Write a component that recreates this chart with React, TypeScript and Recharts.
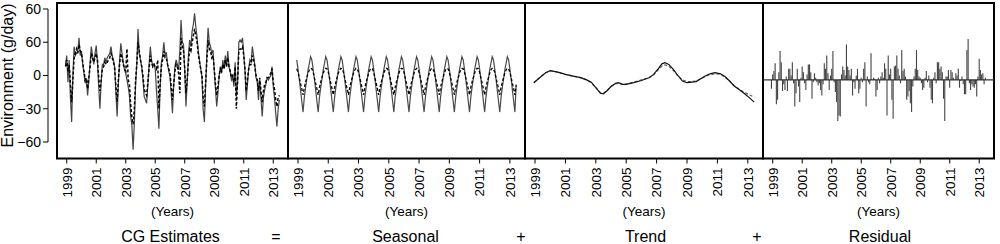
import React from 'react';
import { ComposedChart, Line, Bar, XAxis, YAxis, ReferenceArea, ReferenceLine } from 'recharts';

const FONT = '"Liberation Sans", Arial, Helvetica, sans-serif';

// ---------- labels ----------
const yearTicks = [1999, 2001, 2003, 2005, 2007, 2009, 2011, 2013];
const yTicks = [-60, -30, 0, 30, 60];
const yTickLabels = ['\u221260', '\u221230', '0', '60', '60'];
const panelTitles = ['CG Estimates', 'Seasonal', 'Trend', 'Residual'];
const operators = ['=', '+', '+'];
const xAxisTitle = '(Years)';
const yAxisTitle = 'Environment (g/day)';

// ---------- data (monthly, Dec 1998 .. Jun 2013) ----------
const SERIES_START = 1998 + 11 / 12;

const cgObserved = [
  10,
  18, -6, 14, -20, -42, 0, 26, 18, 20, 22, 34, 18,
  22, 10, 2, -7, -4, -18, -4, 12, 26, 18, 10, 20,
  27, 12, -10, -30, -6, 10, 10, 16, 12, 16, 18, 20,
  26, 18, 14, 8, -16, -37, -8, 14, 29, 20, 12, 5,
  2, -4, -10, -18, -37, -45, -67, -43, -10, 11, 42, 20,
  14, 8, -4, -19, -22, -25, -8, 10, 26, 14, 8, 10,
  6, -14, -30, -48, -10, 12, 18, 30, 18, 21, 10, 4,
  -1, -16, -34, -10, 8, 14, 10, 5, 22, 50, 30, 28,
  4, -28, -6, 18, 32, 26, 40, 46, 56, 44, 35, 22,
  14, 6, -1, -31, -42, -10, 20, 43, 30, 26, 20, 23,
  4, -12, -28, -16, 0, 8, 2, 14, 6, 18, 8, 22,
  8, 3, -4, -1, -10, 12, -19, -6, 30, 32, 30, 34,
  20, 4, -22, -8, 6, 14, 12, 26, 18, 10, -2, -6,
  -22, -4, -20, -37, -20, -13, -8, -2, -4, -2, 0, 8,
  -10, -20, -34, -46, -30, -22,
];

const cgEstimated = [
  8,
  14, 4, 10, -8, -24, -4, 16, 20, 24, 20, 28, 22,
  20, 12, 4, -4, -2, -12, -2, 8, 20, 16, 12, 16,
  20, 14, -2, -14, -4, 6, 8, 12, 10, 12, 14, 16,
  20, 16, 12, 6, -10, -24, -4, 10, 20, 16, 10, 6,
  4, 24, -4, -8, -26, -38, -44, -30, -4, 10, 30, 22,
  14, 8, 0, -12, -16, -18, -6, 6, 18, 12, 8, 10,
  8, 6, 14, -30, -8, 8, 14, 22, 16, 16, 10, 6,
  2, -10, -22, -8, 4, 10, 8, 2, -16, 34, 26, 22,
  6, -16, -4, 12, 24, 22, 30, 36, 42, 36, 30, 20,
  12, 6, 0, -20, -28, -6, 14, 32, 24, 22, 16, 18,
  6, -8, -18, -10, 0, 6, 4, 10, 6, 14, 8, 16,
  8, 4, -2, 0, -6, 8, -30, -4, 22, 24, 24, 26,
  18, 6, -14, -4, 6, 10, 10, 18, 14, 8, 0, -4,
  -14, -2, -14, -24, -14, -8, -6, -2, -2, 0, 2, 6,
  -6, -12, -22, -28, -20, -18,
];

const seasonalObserved = [
  14,
  6, -3, -13, -23, -33, -20, -11, -3, 5, 11, 17, 14,
  6, -3, -13, -23, -33, -20, -11, -3, 5, 11, 17, 14,
  6, -3, -13, -23, -33, -20, -11, -3, 5, 11, 17, 14,
  6, -3, -13, -23, -33, -20, -11, -3, 5, 11, 17, 14,
  6, -3, -13, -23, -33, -20, -11, -3, 5, 11, 17, 14,
  6, -3, -13, -23, -33, -20, -11, -3, 5, 11, 17, 14,
  6, -3, -13, -23, -33, -20, -11, -3, 5, 11, 17, 14,
  6, -3, -13, -23, -33, -20, -11, -3, 5, 11, 17, 14,
  6, -3, -13, -23, -33, -20, -11, -3, 5, 11, 17, 14,
  6, -3, -13, -23, -33, -20, -11, -3, 5, 11, 17, 14,
  6, -3, -13, -23, -33, -20, -11, -3, 5, 11, 17, 14,
  6, -3, -13, -23, -33, -20, -11, -3, 5, 11, 17, 14,
  6, -3, -13, -23, -33, -20, -11, -3, 5, 11, 17, 14,
  6, -3, -13, -23, -33, -20, -11, -3, 5, 11, 17, 14,
  6, -3, -13, -23, -33, -8,
];

const seasonalEstimated = [
  6,
  3, -2, -7, -12, -17.5, -11, -6, -2, 2, 5, 6.5, 6,
  3, -2, -7, -12, -17.5, -11, -6, -2, 2, 5, 6.5, 6,
  3, -2, -7, -12, -17.5, -11, -6, -2, 2, 5, 6.5, 6,
  3, -2, -7, -12, -17.5, -11, -6, -2, 2, 5, 6.5, 6,
  3, -2, -7, -12, -17.5, -11, -6, -2, 2, 5, 6.5, 6,
  3, -2, -7, -12, -17.5, -11, -6, -2, 2, 5, 6.5, 6,
  3, -2, -7, -12, -17.5, -11, -6, -2, 2, 5, 6.5, 6,
  3, -2, -7, -12, -17.5, -11, -6, -2, 2, 5, 6.5, 6,
  3, -2, -7, -12, -17.5, -11, -6, -2, 2, 5, 6.5, 6,
  3, -2, -7, -12, -17.5, -11, -6, -2, 2, 5, 6.5, 6,
  3, -2, -7, -12, -17.5, -11, -6, -2, 2, 5, 6.5, 6,
  3, -2, -7, -12, -17.5, -11, -6, -2, 2, 5, 6.5, 6,
  3, -2, -7, -12, -17.5, -11, -6, -2, 2, 5, 6.5, 6,
  3, -2, -7, -12, -17.5, -11, -6, -2, 2, 5, 6.5, 6,
  3, -2, -7, -12, -17.5, -9,
];

const trendTimes = [
  1998.92, 1999.3, 1999.7, 2000.0, 2000.5, 2001.0, 2001.5, 2002.0, 2002.4, 2002.7,
  2003.0, 2003.3, 2003.5, 2003.75, 2004.0, 2004.3, 2004.5, 2004.75, 2005.0, 2005.5,
  2006.0, 2006.5, 2006.8, 2007.1, 2007.35, 2007.55, 2007.8, 2008.1, 2008.4, 2008.7,
  2009.0, 2009.3, 2009.6, 2009.9, 2010.2, 2010.5, 2010.85, 2011.2, 2011.5, 2011.8,
  2012.1, 2012.4, 2012.75, 2013.1, 2013.42,
];
const trendObserved = [
  -6.5, -2, 2.5, 4.3, 3, 1, -0.5, -2, -4, -6,
  -11, -16, -16.5, -13.5, -10, -7, -6.5, -8, -8, -6.5,
  -4.5, -2, 1, 6, 10.5, 11.5, 10, 5.5, 0, -5,
  -6.5, -6, -5.5, -3, -0.5, 1.5, 2.5, 1.5, -1, -5,
  -9.5, -12.5, -16, -20, -24,
];
const trendEstimated = [
  -6.5, -2, 2.5, 4.3, 3, 1, -0.5, -2, -4, -6.5,
  -11, -15.5, -16, -13.5, -10, -7.5, -7, -8, -7.5, -6,
  -4, -2, 0.5, 5, 8.5, 9.5, 8.5, 4.5, -0.5, -4,
  -5.5, -5.5, -5, -3, -1, 0.5, 1.5, 1, -1.5, -5,
  -9, -12, -15, -17.5, -19.5,
];

const RESIDUAL_BASE = -4;
const residual = [
  -8, 5, 8, 15, -22, -18, 7, 26, 16, -10, -4, -9,
  3, -10, 10, 10, 4, 16, -3, -24, -12, 10, -6, -20,
  2, 12, 7, -3, -9, 5, 14, 14, 7, -17, -2, 6,
  2, -2, -5, -3, -9, -14, -4, 15, 10, 22, 6, -9,
  4, 10, 26, -2, -11, -20, -37, -32, -33, 5, 12, 9,
  4, 32, 12, 9, 4, 10, -14, -2, -8, 4, 10, -12,
  -8, 2, -2, 10, 16, -24, 3, -2, -4, 24, 0, 2,
  1, -15, -9, 2, -3, 3, 7, 2, 15, 10, -32, 22,
  5, 10, -18, -35, 12, 13, 22, 10, 4, -3, 27, 8,
  10, 3, -18, -15, -10, -21, -29, -6, 3, 10, 27, 9,
  3, 2, -3, -9, -7, 2, 8, -2, 4, -7, -18, -21,
  2, 7, -3, 16, 16, 10, 12, 7, -17, -37, 3, 3,
  9, -7, 9, 7, 2, 0, 6, 4, 10, -7, -1, 3,
  -4, -13, -13, 27, 37, -3, -9, -4, -6, -7, -4, -15,
  3, 19, 9, 5, 6, -4, 2,
];

// ---------- rows built for the library ----------
const months = cgObserved.map((_, i) => SERIES_START + i / 12);
const cgRows = months.map((t, i) => ({ t, obs: cgObserved[i], est: cgEstimated[i] }));
const seasonalRows = months.map((t, i) => ({ t, obs: seasonalObserved[i], est: seasonalEstimated[i] }));
const trendRows = trendTimes.map((t, i) => ({ t, obs: trendObserved[i], est: trendEstimated[i] }));
const residualRows = months.map((t, i) => ({
  t,
  r: [Math.min(RESIDUAL_BASE, RESIDUAL_BASE + residual[i]), Math.max(RESIDUAL_BASE, RESIDUAL_BASE + residual[i])],
}));

// ---------- layout ----------
const H = 244;
const TOP = 3;
const XAXIS_H = 85.5;
const Y_DOMAIN: [number, number] = [-74.9, 65.4];
const X_MIN = 1998.34;
const X_MAX = 2014.0;
const P1_X_MIN = 1997.73; // extra room for the detached y axis line
const panels = [
  { left: 0, width: 288 },
  { left: 288, width: 237 },
  { left: 525, width: 238 },
  { left: 763, width: 231 },
];
const panelCenters = [172.5, 406.5, 644, 878.5];
const titleX = [170.5, 405.5, 645.5, 880];
const operatorX = [276, 521, 757];

function YearTick(props: any) {
  const { x, y, payload } = props;
  return (
    <text
      x={x}
      y={y}
      dy="0.36em"
      textAnchor="end"
      transform={`rotate(-90, ${x}, ${y})`}
      fontSize={13.5}
      fontFamily={FONT}
      fill="#000"
    >
      {payload.value}
    </text>
  );
}

const xAxisProps = (min: number) => ({
  type: 'number' as const,
  dataKey: 't',
  domain: [min, X_MAX] as [number, number],
  allowDataOverflow: true,
  ticks: yearTicks,
  interval: 0 as const,
  tick: <YearTick />,
  tickSize: 5,
  tickMargin: 4,
  axisLine: false,
  tickLine: { stroke: '#000', strokeWidth: 1 },
  height: XAXIS_H,
});

const frame = (
  <ReferenceArea
    x1={X_MIN}
    x2={X_MAX}
    y1={Y_DOMAIN[0]}
    y2={Y_DOMAIN[1]}
    fill="none"
    fillOpacity={0}
    stroke="#000"
    strokeWidth={2}
  />
);

export default function App() {
  const margin = { top: TOP, right: 0, bottom: 0, left: 0 };
  return (
    <div style={{ position: 'absolute', left: 0, top: 0, width: 1000, height: H, background: '#fff', fontFamily: FONT }}>
      <style>{`.recharts-surface{overflow:visible}`}</style>

      {/* Panel 1: CG estimates */}
      <div style={{ position: 'absolute', left: panels[0].left, top: 0 }}>
        <ComposedChart width={panels[0].width} height={H} data={cgRows} margin={margin}>
          <XAxis {...xAxisProps(P1_X_MIN)} />
          <YAxis
            type="number"
            domain={Y_DOMAIN}
            allowDataOverflow
            ticks={yTicks}
            interval={0}
            width={48}
            tickSize={5}
            tickMargin={2}
            axisLine={false}
            tickLine={{ stroke: '#000', strokeWidth: 1 }}
            tick={{ fontSize: 14, fill: '#000', fontFamily: FONT }}
            tickFormatter={(v: number) => yTickLabels[yTicks.indexOf(v)] ?? String(v)}
          />
          <ReferenceLine
            segment={[{ x: P1_X_MIN, y: -60 }, { x: P1_X_MIN, y: 60 }]}
            stroke="#000"
            strokeWidth={1}
          />
          {frame}
          <Line type="linear" dataKey="obs" stroke="#444" strokeWidth={1.2} dot={false} isAnimationActive={false} />
          <Line type="linear" dataKey="est" stroke="#000" strokeWidth={1.5} strokeDasharray="3 2" dot={false} isAnimationActive={false} />
        </ComposedChart>
      </div>

      {/* Panel 2: Seasonal */}
      <div style={{ position: 'absolute', left: panels[1].left, top: 0 }}>
        <ComposedChart width={panels[1].width} height={H} data={seasonalRows} margin={margin}>
          <XAxis {...xAxisProps(X_MIN)} />
          <YAxis hide type="number" domain={Y_DOMAIN} allowDataOverflow />
          {frame}
          <Line type="linear" dataKey="obs" stroke="#4a4a4a" strokeWidth={1.2} dot={false} isAnimationActive={false} />
          <Line type="linear" dataKey="est" stroke="#000" strokeWidth={1.3} strokeDasharray="3 2" dot={false} isAnimationActive={false} />
        </ComposedChart>
      </div>

      {/* Panel 3: Trend */}
      <div style={{ position: 'absolute', left: panels[2].left, top: 0 }}>
        <ComposedChart width={panels[2].width} height={H} data={trendRows} margin={margin}>
          <XAxis {...xAxisProps(X_MIN)} />
          <YAxis hide type="number" domain={Y_DOMAIN} allowDataOverflow />
          {frame}
          <Line type="linear" dataKey="est" stroke="#666" strokeWidth={1.2} strokeDasharray="3 2" dot={false} isAnimationActive={false} />
          <Line type="linear" dataKey="obs" stroke="#111" strokeWidth={1.2} dot={false} isAnimationActive={false} />
        </ComposedChart>
      </div>

      {/* Panel 4: Residual */}
      <div style={{ position: 'absolute', left: panels[3].left, top: 0 }}>
        <ComposedChart width={panels[3].width} height={H} data={residualRows} margin={margin}>
          <XAxis {...xAxisProps(X_MIN)} />
          <YAxis hide type="number" domain={Y_DOMAIN} allowDataOverflow />
          {frame}
          <Bar dataKey="r" fill="#444" barSize={1.3} isAnimationActive={false} />
          <ReferenceLine y={RESIDUAL_BASE} stroke="#333" strokeWidth={1.2} />
        </ComposedChart>
      </div>

      {/* Titles */}
      <svg width={1000} height={H} style={{ position: 'absolute', left: 0, top: 0, pointerEvents: 'none' }}>
        <text
          x={12.5}
          y={75.5}
          transform="rotate(-90, 12.5, 75.5)"
          textAnchor="middle"
          fontSize={16}
          fontFamily={FONT}
          fill="#000"
        >
          {yAxisTitle}
        </text>
        {panelCenters.map((cx, i) => (
          <text key={`xt${i}`} x={cx} y={215.5} textAnchor="middle" fontSize={13.5} fontFamily={FONT} fill="#000">
            {xAxisTitle}
          </text>
        ))}
        {panelTitles.map((s, i) => (
          <text key={`pt${i}`} x={titleX[i]} y={241.5} textAnchor="middle" fontSize={16} fontFamily={FONT} fill="#000">
            {s}
          </text>
        ))}
        {operators.map((s, i) => (
          <text key={`op${i}`} x={operatorX[i]} y={241.5} textAnchor="middle" fontSize={16} fontFamily={FONT} fill="#000">
            {s}
          </text>
        ))}
      </svg>
    </div>
  );
}
